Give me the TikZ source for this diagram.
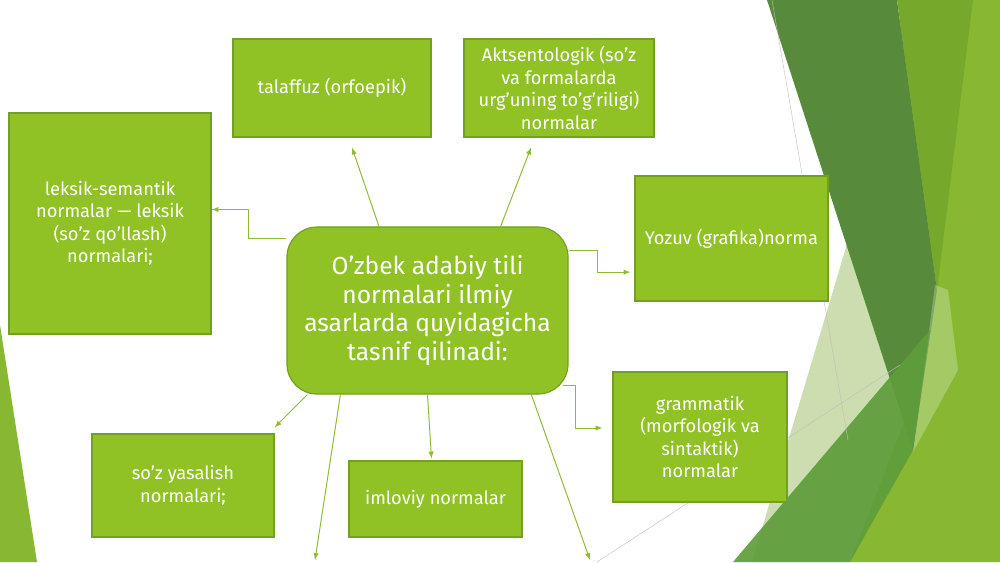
\documentclass[tikz,border=0pt]{standalone}
\usepackage{fontspec}
\setmainfont{Fira Sans}
\usepackage{tikz}
\definecolor{boxgreen}{HTML}{90C226}
\definecolor{boxedge}{HTML}{72A020}
\definecolor{linegreen}{HTML}{8DBB32}
\definecolor{darkleaf}{HTML}{578A3B}
\definecolor{oliveleaf}{HTML}{75A82B}
\definecolor{brightleaf}{HTML}{88B832}
\definecolor{midleaf}{HTML}{5E9D3B}
\definecolor{paleleaf}{HTML}{CCDDB0}

\begin{document}
\begin{tikzpicture}[x=0.025cm, y=-0.025cm,
        box/.style={draw=boxedge, line width=0.8pt, fill=boxgreen, text=white, align=center, inner sep=2pt, font=\fontsize{13}{16}\selectfont},
        hub/.style={box, rounded corners=0.75cm, font=\fontsize{17.5}{20.6}\selectfont},
        arr/.style={->, >=latex, draw=linegreen, line width=0.7pt}]
    \useasboundingbox (0,0) rectangle (1000,562);
    % leaves on the right and left
    \fill[paleleaf] (890,100) -- (752,562) -- (950,562) -- cycle;
    \fill[brightleaf] (900,0) -- (1000,0) -- (1000,562) -- (850,562) -- (905,420) -- cycle;
    \fill[darkleaf] (767,0) -- (897,0) -- (937,290) -- (913,450) -- cycle;
    \fill[oliveleaf] (897,0) -- (973,0) -- (937,290) -- cycle;
    \fill[white, opacity=0.25] (935,285) -- (948,290) -- (958,370) -- (913,452) -- cycle;
    \fill[midleaf, opacity=0.92] (733,562) -- (930,330) -- (913,450) -- (850,562) -- cycle;
    \draw[gray!50, line width=0.3pt] (772,0) -- (848,440);
    \draw[gray!50, line width=0.3pt] (597,562) -- (900,365);
    \fill[brightleaf] (0,325) -- (37,562) -- (0,562) -- cycle;

    \node[hub, minimum width=7.025cm, minimum height=4.175cm] (c) at (427.5, 310.5) {O’zbek adabiy tili\\normalari ilmiy\\asarlarda quyidagicha\\tasnif qilinadi:};
    \node[box, minimum width=4.95cm, minimum height=2.45cm] (1) at (332, 88) {talaffuz (orfoepik)};
    \node[box, minimum width=4.75cm, minimum height=2.45cm] (2) at (559, 88) {Aktsentologik (so’z\\va formalarda\\urg’uning to’g’riligi)\\normalar};
    \node[box, minimum width=5.05cm, minimum height=5.525cm] (3) at (110, 223.5) {leksik-semantik\\normalar — leksik\\(so’z qo’llash)\\normalari;};
    \node[box, minimum width=4.825cm, minimum height=3.125cm] (4) at (731.5, 238.5) {Yozuv (grafika)norma};
    \node[box, minimum width=4.35cm, minimum height=3.25cm] (5) at (700, 437) {grammatik\\(morfologik va\\sintaktik)\\normalar};
    \node[box, minimum width=4.55cm, minimum height=2.575cm] (6) at (183, 485.5) {so’z yasalish\\normalari;};
    \node[box, minimum width=4.325cm, minimum height=1.9cm] (7) at (435.5, 499) {imloviy normalar};
    \coordinate (8) at (315, 560);
    \coordinate (9) at (590, 560);

    \draw[arr] (c.120) -- ([xshift=0.5cm, yshift=-0.25cm]1.south);
    \draw[arr] (c.49) -- ([xshift=-0.7cm, yshift=-0.25cm]2.south);
    \draw[arr] (c.153) -- ++(-38,0) |- ([yshift=0.35cm]3.east);
    \draw[arr] (c.23) -- ++(29,0) |- ([xshift=-0.1cm, yshift=-0.84cm]4.west);
    \draw[arr] ([xshift=-0.15cm]c.-28) -- ++(13,0) |- ([xshift=-0.25cm, yshift=0.225cm]5.west);
    \draw[arr] (c.215) -- ([yshift=0.15cm]6.north east);
    \draw[arr] (c.south) -- ([xshift=-0.1cm, yshift=0.05cm]7.north);
    \draw[arr] (c.224) -- (8);
    \draw[arr] (c.-39) -- (9);
\end{tikzpicture}
\end{document}
